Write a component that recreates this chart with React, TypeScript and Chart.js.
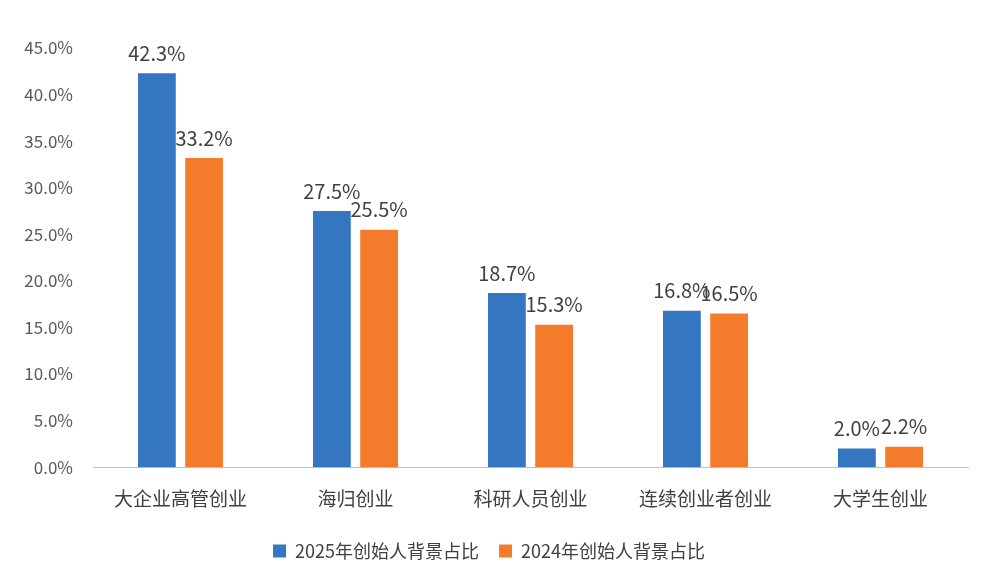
import React, { useEffect, useRef } from "react";
import { Chart, registerables } from "chart.js";
Chart.register(...registerables);

const categories = ["大企业高管创业", "海归创业", "科研人员创业", "连续创业者创业", "大学生创业"];
const series2025 = [42.3, 27.5, 18.7, 16.8, 2.0];
const series2024 = [33.2, 25.5, 15.3, 16.5, 2.2];
const seriesNames = ["2025年创始人背景占比", "2024年创始人背景占比"];

const FONT = "'Noto Sans CJK SC', 'Noto Sans', sans-serif";

const labelPlugin = {
  id: "valLabels",
  afterDatasetsDraw(chart: any) {
    const ctx = chart.ctx;
    ctx.save();
    ctx.font = `20px ${FONT}`;
    ctx.fillStyle = "#404040";
    ctx.textAlign = "center";
    ctx.textBaseline = "bottom";
    chart.data.datasets.forEach((ds: any, i: number) => {
      chart.getDatasetMeta(i).data.forEach((bar: any, j: number) => {
        ctx.fillText(ds.data[j].toFixed(1) + "%", bar.x, bar.y - 10);
      });
    });
    ctx.restore();
  },
};

export default function App() {
  const ref = useRef<HTMLCanvasElement>(null);
  useEffect(() => {
    const chart = new Chart(ref.current!, {
      type: "bar",
      data: {
        labels: categories,
        datasets: [
          { label: seriesNames[0], data: series2025, backgroundColor: "#3576C1" },
          { label: seriesNames[1], data: series2024, backgroundColor: "#F47B2C" },
        ],
      },
      options: {
        animation: false,
        responsive: true,
        maintainAspectRatio: false,
        layout: { padding: { top: 48, right: 22, left: 10, bottom: 4 } },
        datasets: { bar: { categoryPercentage: 0.54, barPercentage: 0.8 } },
        scales: {
          x: {
            grid: { display: false },
            border: { color: "#BFBFBF" },
            ticks: { color: "#404040", padding: 12, font: { size: 19, family: FONT } },
          },
          y: {
            min: 0,
            max: 45,
            afterFit: (s: any) => { s.width = 83; },
            grid: { display: false },
            border: { display: false },
            ticks: {
              stepSize: 5,
              padding: 12,
              color: "#595959",
              font: { size: 17, family: FONT },
              callback: (v: any) => Number(v).toFixed(1) + "%",
            },
          },
        },
        plugins: {
          tooltip: { enabled: false },
          legend: {
            position: "bottom",
            labels: { boxWidth: 13, boxHeight: 13, color: "#404040", font: { size: 18, family: FONT }, padding: 20 },
          },
        },
      },
      plugins: [labelPlugin],
    });
    return () => chart.destroy();
  }, []);
  return (
    <div style={{ position: "absolute", left: 0, top: 0, width: 990, height: 574, background: "#fff" }}>
      <canvas ref={ref} />
    </div>
  );
}
